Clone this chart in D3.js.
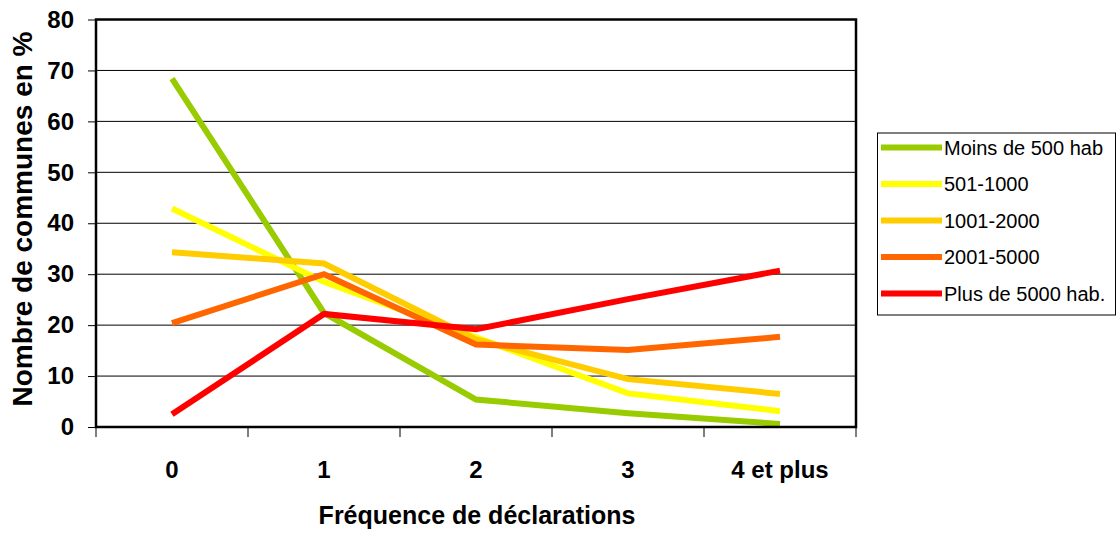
<!DOCTYPE html>
<html><head><meta charset="utf-8">
<script src="https://cdn.jsdelivr.net/npm/d3@7"></script>
<style>body{margin:0;background:#fff;}svg{display:block;font-family:"Liberation Sans",Arial,sans-serif;}</style>
</head><body>
<script>
const categories = ["0","1","2","3","4 et plus"];
const seriesNames = ["Moins de 500 hab","501-1000","1001-2000","2001-5000","Plus de 5000 hab."];
const seriesColors = ["#99CC00","#FFFF00","#FFCC00","#FF6600","#FF0000"];
const moins500 = [68.4, 22.4, 5.4, 2.7, 0.6];
const s501_1000 = [42.9, 28.5, 17.6, 6.6, 3.1];
const s1001_2000 = [34.3, 32.1, 17.2, 9.4, 6.5];
const s2001_5000 = [20.4, 30.0, 16.2, 15.1, 17.7];
const plus5000 = [2.5, 22.2, 19.2, 25.1, 30.7];
const yTicks = [0,10,20,30,40,50,60,70,80];
const allSeries = [moins500, s501_1000, s1001_2000, s2001_5000, plus5000];

const W=1118, H=534;
const m={left:96, top:19.5, right:856, bottom:427};
const svg=d3.select("body").append("svg").attr("width",W).attr("height",H);
const x=d3.scaleBand().domain(categories).range([m.left,m.right]);
const y=d3.scaleLinear().domain([0,80]).range([m.bottom,m.top]);

// grid
svg.append("g").selectAll("line").data(yTicks.filter(d=>d>0&&d<80)).join("line")
  .attr("x1",m.left).attr("x2",m.right).attr("y1",d=>y(d)).attr("y2",d=>y(d))
  .attr("stroke","#000").attr("stroke-width",1);

// y axis
const ya=svg.append("g").attr("transform",`translate(${m.left},0)`)
  .call(d3.axisLeft(y).tickValues(yTicks).tickSize(8).tickPadding(14));
ya.select(".domain").remove();
ya.selectAll("line").attr("stroke","#000");
ya.selectAll("text").attr("font-size",24).attr("font-weight","bold").attr("fill","#000")
  .attr("font-family","'Liberation Sans',Arial,sans-serif");

// x axis ticks at band boundaries
const bounds=categories.map(c=>x(c)).concat([m.right]);
svg.append("g").selectAll("line").data(bounds).join("line")
  .attr("x1",d=>d).attr("x2",d=>d).attr("y1",m.bottom).attr("y2",m.bottom+10)
  .attr("stroke","#000").attr("stroke-width",1);
svg.append("g").selectAll("text").data(categories).join("text")
  .attr("x",d=>x(d)+x.bandwidth()/2).attr("y",478).attr("text-anchor","middle")
  .attr("font-size",24).attr("font-weight","bold").text(d=>d);

// lines
const line=d3.line().x((d,i)=>x(categories[i])+x.bandwidth()/2).y(d=>y(d));
svg.append("g").selectAll("path").data(allSeries).join("path")
  .attr("d",line).attr("fill","none").attr("stroke",(d,i)=>seriesColors[i])
  .attr("stroke-width",6).attr("stroke-linejoin","miter");

// frame
svg.append("rect").attr("x",m.left).attr("y",m.top).attr("width",m.right-m.left).attr("height",m.bottom-m.top)
  .attr("fill","none").attr("stroke","#000").attr("stroke-width",2.5);

// axis titles
svg.append("text").attr("x",477).attr("y",524).attr("text-anchor","middle")
  .attr("font-size",25).attr("font-weight","bold").text("Fréquence de déclarations");
svg.append("text").attr("transform","translate(32,219) rotate(-90)").attr("text-anchor","middle")
  .attr("font-size",28).attr("font-weight","bold").text("Nombre de communes en %");

// legend
const lg=svg.append("g");
lg.append("rect").attr("x",877.5).attr("y",133).attr("width",238).attr("height",182)
  .attr("fill","#fff").attr("stroke","#000").attr("stroke-width",1);
const rows=lg.selectAll("g").data(seriesNames).join("g")
  .attr("transform",(d,i)=>`translate(0,${147.5+i*36.5})`);
rows.append("line").attr("x1",881).attr("x2",942).attr("y1",0).attr("y2",0)
  .attr("stroke",(d,i)=>seriesColors[i]).attr("stroke-width",6);
rows.append("text").attr("x",944).attr("y",7).attr("font-size",20).text(d=>d);
</script>
</body></html>
